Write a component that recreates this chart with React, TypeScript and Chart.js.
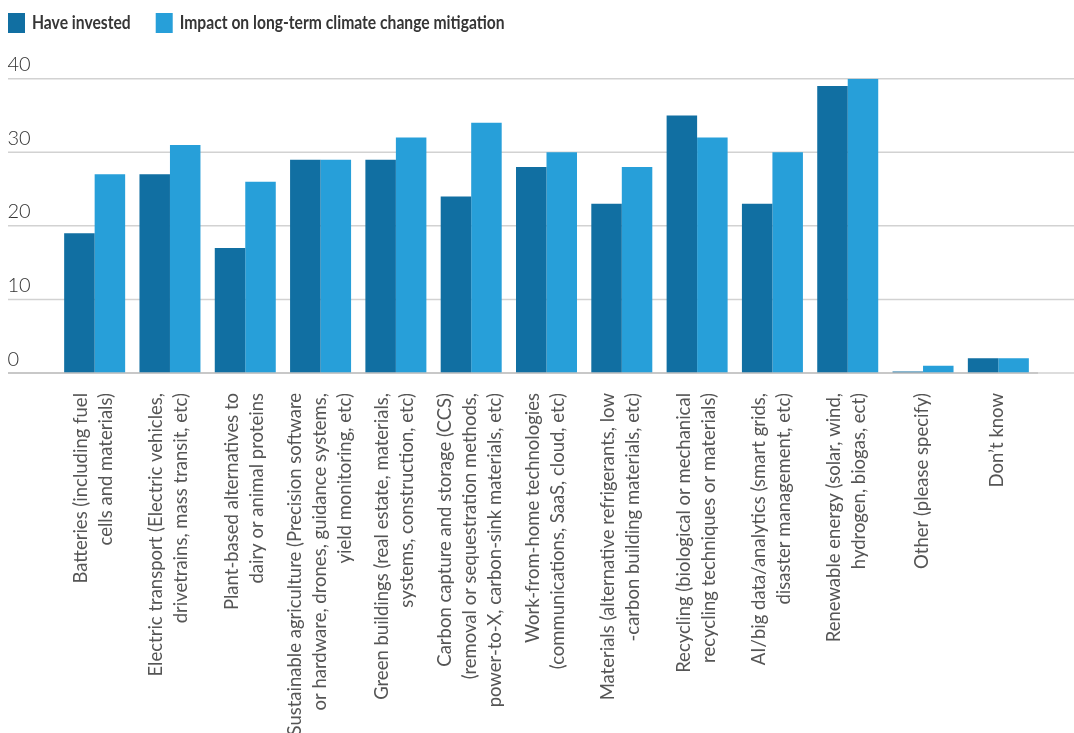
import React, { useEffect, useRef } from "react";
import { Chart, registerables } from "chart.js";

Chart.register(...registerables);

// Technology categories, one entry per line of the axis label
const categories: string[][] = [
  ["Batteries (including fuel", "cells and materials)"],
  ["Electric transport (Electric vehicles,", "drivetrains, mass transit, etc)"],
  ["Plant-based alternatives to", "dairy or animal proteins"],
  ["Sustainable agriculture (Precision software", "or hardware, drones, guidance systems,", "yield monitoring, etc)"],
  ["Green buildings (real estate, materials,", "systems, construction, etc)"],
  ["Carbon capture and storage (CCS)", "(removal or sequestration methods,", "power-to-X, carbon-sink materials, etc)"],
  ["Work-from-home technologies", "(communications, SaaS, cloud, etc)"],
  ["Materials (alternative refrigerants, low", "-carbon building materials, etc)"],
  ["Recycling (biological or mechanical", "recycling techniques or materials)"],
  ["AI/big data/analytics (smart grids,", "disaster management, etc)"],
  ["Renewable energy (solar, wind,", "hydrogen, biogas, ect)"],
  ["Other (please specify)"],
  ["Don’t know"],
];

const haveInvested: number[] = [19, 27, 17, 29, 29, 24, 28, 23, 35, 23, 39, 0.2, 2];
const climateImpact: number[] = [27, 31, 26, 29, 32, 34, 30, 28, 32, 30, 40, 1, 2];

const yTicks: number[] = [0, 10, 20, 30, 40];

const DARK_BLUE = "#116fa2";
const LIGHT_BLUE = "#279fd9";
const GRID = "#d2d2d2";
const BASELINE = "#c2c2c2";

const TICK_SIZE = 18.5;
const TICK_LINE = 25;

// Horizontal rules running the full width, with their values sitting above them
const ruledGrid = {
  id: "ruledGrid",
  beforeDatasetsDraw(chart: any) {
    const { ctx, width } = chart;
    const y = chart.scales.y;
    ctx.save();
    ctx.lineWidth = 1.5;
    ctx.strokeStyle = GRID;
    yTicks.forEach((v) => {
      const py = y.getPixelForValue(v);
      ctx.beginPath();
      ctx.moveTo(8, py);
      ctx.lineTo(width, py);
      ctx.stroke();
    });
    ctx.fillStyle = "#333333";
    ctx.font = "300 20px Lato";
    ctx.textAlign = "left";
    ctx.textBaseline = "alphabetic";
    yTicks.forEach((v) => {
      const py = y.getPixelForValue(v);
      ctx.fillText(String(v), 7.5, py - 7.5);
    });
    ctx.restore();
  },
  afterDatasetsDraw(chart: any) {
    const { ctx, chartArea } = chart;
    const py = chart.scales.y.getPixelForValue(0);
    ctx.save();
    ctx.lineWidth = 1.5;
    ctx.strokeStyle = BASELINE;
    ctx.beginPath();
    ctx.moveTo(8, py);
    ctx.lineTo(chartArea.right + 2, py);
    ctx.stroke();
    ctx.restore();
  },
};

// Rotated multi-line category labels: centre each block of lines on its tick
const centeredTickLines = {
  id: "centeredTickLines",
  afterLayout(chart: any) {
    const items = chart.scales.x.getLabelItems();
    items.forEach((item: any) => {
      const lines = Array.isArray(item.label) ? item.label.length : 1;
      item.options.translation[0] -= ((lines - 1) * TICK_LINE) / 2 + 1;
    });
  },
};

// Compact series key along the top edge, in a slightly condensed bold face
const seriesKey = {
  id: "seriesKey",
  afterDraw(chart: any) {
    const { ctx } = chart;
    const squeeze = 0.87;
    let x = 8;
    ctx.save();
    ctx.font = "bold 18px Lato";
    ctx.textBaseline = "middle";
    ctx.textAlign = "left";
    chart.data.datasets.forEach((ds: any) => {
      ctx.fillStyle = ds.backgroundColor;
      ctx.fillRect(x, 13, 17, 20);
      x += 17 + 7;
      const w = ctx.measureText(ds.label).width * squeeze;
      ctx.save();
      ctx.translate(x, 23.5);
      ctx.scale(squeeze, 1);
      ctx.fillStyle = "#363636";
      ctx.fillText(ds.label, 0, 0);
      ctx.restore();
      x += w + 25;
    });
    ctx.restore();
  },
};

export default function App() {
  const canvasRef = useRef<HTMLCanvasElement | null>(null);

  useEffect(() => {
    const canvas = canvasRef.current;
    if (!canvas) return;
    const chart = new Chart(canvas, {
      type: "bar",
      data: {
        labels: categories,
        datasets: [
          {
            label: "Have invested",
            data: haveInvested,
            backgroundColor: DARK_BLUE,
            borderWidth: 0,
          },
          {
            label: "Impact on long-term climate change mitigation",
            data: climateImpact,
            backgroundColor: LIGHT_BLUE,
            borderWidth: 0,
          },
        ],
      },
      options: {
        responsive: false,
        animation: false,
        layout: { padding: { left: 0, right: 38, top: 78.7, bottom: 0 } },
        datasets: {
          bar: { categoryPercentage: 0.81, barPercentage: 1 },
        },
        plugins: {
          legend: { display: false },
          title: { display: false },
          tooltip: { enabled: false },
        },
        scales: {
          x: {
            grid: { display: false },
            border: { display: false },
            ticks: {
              autoSkip: false,
              minRotation: 90,
              maxRotation: 90,
              padding: 12,
              color: "#555555",
              font: { family: "Lato", size: TICK_SIZE, weight: "normal", lineHeight: TICK_LINE / TICK_SIZE },
            },
            afterFit: (scale: any) => {
              scale.height = 360;
            },
          },
          y: {
            min: 0,
            max: 40,
            ticks: { display: false, stepSize: 10 },
            grid: { display: false },
            border: { display: false },
            afterFit: (scale: any) => {
              scale.width = 57;
            },
          },
        },
      },
      plugins: [ruledGrid, centeredTickLines, seriesKey],
    });
    return () => chart.destroy();
  }, []);

  return (
    <div style={{ position: "absolute", left: 0, top: 0, width: 1074, height: 733, background: "#fff" }}>
      <canvas ref={canvasRef} width={1074} height={733} style={{ display: "block" }} />
    </div>
  );
}
